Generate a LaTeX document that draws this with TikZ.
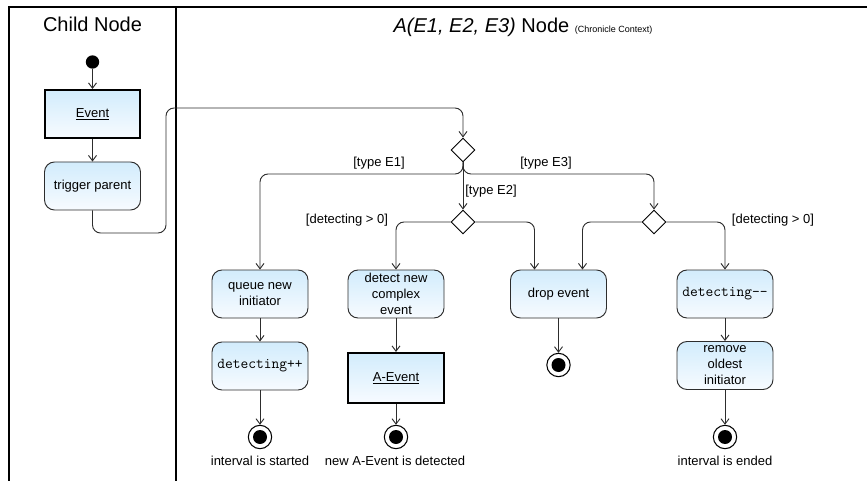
\documentclass[tikz,border=0pt]{standalone}
\usepackage{fontspec}
\setmainfont{Liberation Sans}
\usetikzlibrary{shapes.geometric,arrows.meta}
\definecolor{boxtop}{RGB}{210,236,252}
\definecolor{boxbot}{RGB}{247,251,255}
\definecolor{edgegray}{RGB}{45,45,45}
\newcommand{\codetext}[1]{{\ttfamily\fontsize{11.3}{12}\selectfont #1}}

\begin{document}
\begin{tikzpicture}[x=0.75pt,y=-0.75pt,
  every node/.style={font=\fontsize{9.75}{12}\selectfont},
  action/.style={draw=edgegray, line width=0.7pt, rounded corners=7.5pt,
    top color=boxtop, bottom color=boxbot, minimum width=72pt,
    minimum height=36pt, inner sep=1pt, align=center},
  objbox/.style={draw=black, line width=1.6pt, top color=boxtop,
    bottom color=boxbot, minimum width=71pt, minimum height=36pt, inner sep=1pt},
  decision/.style={diamond, draw=black, line width=0.7pt, fill=white,
    minimum width=18pt, minimum height=18pt, inner sep=0pt},
  startnode/.style={circle, fill=black, minimum size=10pt, inner sep=0pt},
  endnode/.style={circle, draw=black, line width=0.8pt, fill=white,
    minimum size=17.5pt, inner sep=0pt,
    path picture={\fill[black] (path picture bounding box.center) circle (5.25pt);}},
  flow/.style={draw=edgegray, line width=0.7pt,
    -{Straight Barb[length=4pt,width=6pt]}, rounded corners=6pt},
  guard/.style={inner sep=0pt},
  lane/.style={line width=1.1pt, draw=black},
  title/.style={anchor=base, font=\fontsize{15}{17}\selectfont}
]
\useasboundingbox (0,0) rectangle (867,481);

% swimlane frame
\draw[lane] (9,481) -- (9,7) -- (867,7);
\draw[lane] (176,7) -- (176,481);
\node[title] (childtitle) at (92.5,32) {Child Node};
\node[title] (parenttitle) at (523,32.5)
  {\textit{A(E1, E2, E3)} Node {\fontsize{6.75}{8}\selectfont (Chronicle Context)}};

% child lane
\node[startnode] (start) at (92.5,62) {};
\node[objbox] (ev) at (92.5,114) {\underline{Event}};
\node[action] (trig) at (92.5,186) {trigger parent};

% decisions
\node[decision] (d1) at (463,150) {};
\node[decision] (d2) at (463,222) {};
\node[decision] (d3) at (654,222) {};
\coordinate (split) at (463,174);

% actions
\node[action] (queue) at (260,294) {queue new\\initiator};
\node[action] (detect) at (396,294) {detect new\\complex\\event};
\node[action] (drop) at (558.5,294) {drop event};
\node[action] (dec) at (725,294) {\codetext{detecting-{}-}};
\node[action] (inc) at (260,366) {\codetext{detecting++}};
\node[objbox, minimum width=72pt, minimum height=37.5pt] (aev) at (396,378) {\underline{A-Event}};
\node[action] (remove) at (725,365.5) {remove\\oldest\\initiator};

% final nodes
\node[endnode] (f1) at (260,437) {};
\node[endnode] (f2) at (396,437) {};
\node[endnode] (f3) at (558.5,365) {};
\node[endnode] (f4) at (725,437) {};
\node (l1) at (260,461) {interval is started};
\node (l2) at (395,461) {new A-Event is detected};
\node (l4) at (725,461) {interval is ended};

% guards
\node[guard] (gE1) at (379,163) {[type E1]};
\node[guard] (gE3) at (546,163) {[type E3]};
\node[guard] (gE2) at (491,191) {[type E2]};
\node[guard] (gd1) at (347,220) {[detecting > 0]};
\node[guard] (gd2) at (773,220) {[detecting > 0]};

% control flow
\draw[flow] (start) -- (ev);
\draw[flow] (ev) -- (trig);
\draw[flow] (trig.south) -- (trig.south |- 0,233) -- (166,233) -- (166,108)
  -- (d1.north |- 0,108) -- (d1.north);
\draw[flow] (d1.south) -- (split) -| (queue.north);
\draw[flow] (d1.south) -- (split) -| (d3.north);
\draw[flow] (d1.south) -- (d2.north);
\draw[flow] (d2.west) -| (detect.north);
\draw[flow] (d2.east) -| ([xshift=-18pt]drop.north);
\draw[flow] (d3.west) -| ([xshift=18pt]drop.north);
\draw[flow] (d3.east) -| (dec.north);
\draw[flow] (queue) -- (inc);
\draw[flow] (inc) -- (f1);
\draw[flow] (detect) -- (aev);
\draw[flow] (aev) -- (f2);
\draw[flow] (drop) -- (f3);
\draw[flow] (dec) -- (remove);
\draw[flow] (remove) -- (f4);
\end{tikzpicture}
\end{document}
